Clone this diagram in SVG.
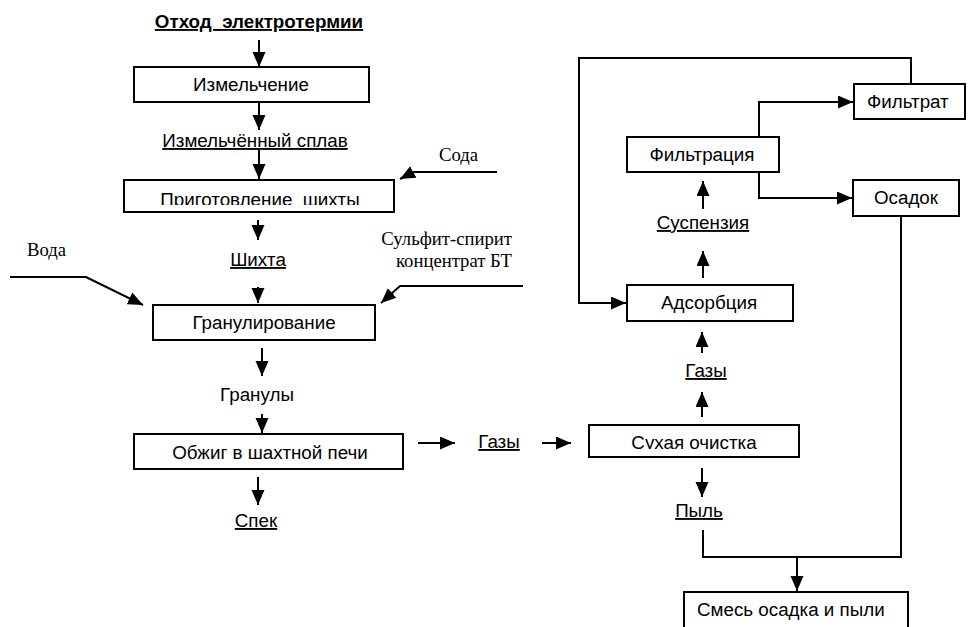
<svg xmlns="http://www.w3.org/2000/svg" width="968" height="627" viewBox="0 0 968 627">
<style>
.bx{fill:#fff;stroke:#000;stroke-width:2}
.t{font-family:"Liberation Sans",Arial,sans-serif;font-size:18.8px;fill:#000}
.s{font-family:"Liberation Serif","Times New Roman",serif;font-size:18.7px;fill:#000}
.u{text-decoration:underline}
.c{text-anchor:middle}
.ln{fill:none;stroke:#000;stroke-width:2}
.ar{fill:none;stroke:#000;stroke-width:2;marker-end:url(#ah)}
</style>
<defs>
<marker id="ah" markerUnits="userSpaceOnUse" markerWidth="16" markerHeight="14" refX="15" refY="6.5" orient="auto" viewBox="0 0 16 14">
<path d="M0,0 L15,6.5 L0,13 z" fill="#000"/>
</marker>
<clipPath id="cp1"><rect x="120" y="170" width="280" height="35"/></clipPath>
<clipPath id="cp2"><rect x="585" y="420" width="220" height="29"/></clipPath>
</defs>
<rect width="968" height="627" fill="#fff"/>

<g id="connectors">
<line class="ar" x1="259" y1="40" x2="259" y2="67"/>
<line class="ar" x1="259" y1="102" x2="259" y2="130"/>
<line class="ar" x1="259" y1="150" x2="259" y2="179"/>
<polyline class="ar" points="497,172 413,172 400,179"/>
<line class="ar" x1="258" y1="220" x2="258" y2="240"/>
<line class="ar" x1="258" y1="287" x2="258" y2="303"/>
<polyline class="ar" points="10,277 86,277 143,305"/>
<polyline class="ar" points="523,286 400,286 381,303"/>
<line class="ar" x1="262" y1="348" x2="262" y2="376"/>
<line class="ar" x1="262" y1="414" x2="262" y2="433"/>
<line class="ar" x1="258" y1="477" x2="258" y2="505"/>
<line class="ar" x1="418" y1="443" x2="455" y2="443"/>
<line class="ar" x1="542" y1="443" x2="571" y2="443"/>
<line class="ar" x1="702" y1="417" x2="702" y2="392"/>
<line class="ar" x1="702" y1="353" x2="702" y2="332"/>
<line class="ar" x1="703" y1="278" x2="703" y2="251"/>
<line class="ar" x1="703" y1="209" x2="703" y2="181"/>
<line class="ar" x1="702" y1="468" x2="702" y2="497"/>
<polyline class="ar" points="759,137 759,102 853,102"/>
<polyline class="ar" points="759,172 759,198 852,198"/>
<polyline class="ar" points="911,85 911,58 579,58 579,303 626,303"/>
<polyline class="ln" points="901,216 901,557 703,557 703,530"/>
<line class="ar" x1="797" y1="557" x2="797" y2="591"/>
</g>

<g id="n-otkhod"><text class="t c u" x="259" y="28" font-weight="bold">Отход&#160; электротермии</text></g>
<g id="n-izmelchenie"><rect class="bx" x="134" y="67" width="235" height="35"/><text class="t c" x="251" y="91">Измельчение</text></g>
<g id="n-splav"><text class="t c u" x="255" y="147">Измельчённый сплав</text></g>
<g id="n-soda"><text class="s" x="439" y="161">Сода</text></g>
<g id="n-prigotovlenie"><rect class="bx" x="124" y="180" width="270" height="32"/><text class="t c" x="260" y="206" clip-path="url(#cp1)">Приготовление&#160; шихты</text></g>
<g id="n-shikhta"><text class="t c u" x="258" y="266">Шихта</text></g>
<g id="n-voda"><text class="s" x="27" y="256">Вода</text></g>
<g id="n-sulfit"><text class="s" x="512" y="245" text-anchor="end">Сульфит-спирит</text><text class="s" x="512" y="267" text-anchor="end">концентрат БТ</text></g>
<g id="n-granulirovanie"><rect class="bx" x="153" y="305" width="222" height="35"/><text class="t c" x="264" y="329">Гранулирование</text></g>
<g id="n-granuly"><text class="t c" x="257" y="401">Гранулы</text></g>
<g id="n-obzhig"><rect class="bx" x="134" y="434" width="269" height="35"/><text class="t c" x="270" y="459">Обжиг в шахтной печи</text></g>
<g id="n-spek"><text class="t c u" x="256" y="527">Спек</text></g>
<g id="n-gazy1"><text class="t c u" x="499" y="448">Газы</text></g>
<g id="n-sukhaya"><rect class="bx" x="589" y="425" width="210" height="32"/><text class="t c" x="694" y="449" clip-path="url(#cp2)">Сухая очистка</text></g>
<g id="n-gazy2"><text class="t c u" x="706" y="377">Газы</text></g>
<g id="n-adsorbtsiya"><rect class="bx" x="627" y="285" width="166" height="36"/><text class="t c" x="709" y="309">Адсорбция</text></g>
<g id="n-suspenziya"><text class="t c u" x="703" y="229">Суспензия</text></g>
<g id="n-filtratsiya"><rect class="bx" x="627" y="137" width="152" height="35"/><text class="t c" x="702" y="161">Фильтрация</text></g>
<g id="n-filtrat"><rect class="bx" x="854" y="84" width="111" height="35"/><text class="t" x="867" y="108">Фильтрат</text></g>
<g id="n-osadok"><rect class="bx" x="853" y="180" width="106" height="36"/><text class="t c" x="906" y="204">Осадок</text></g>
<g id="n-pyl"><text class="t c u" x="699" y="517">Пыль</text></g>
<g id="n-smes"><rect class="bx" x="684" y="592" width="224" height="45"/><text class="t" x="697" y="616">Смесь осадка и пыли</text></g>
</svg>
